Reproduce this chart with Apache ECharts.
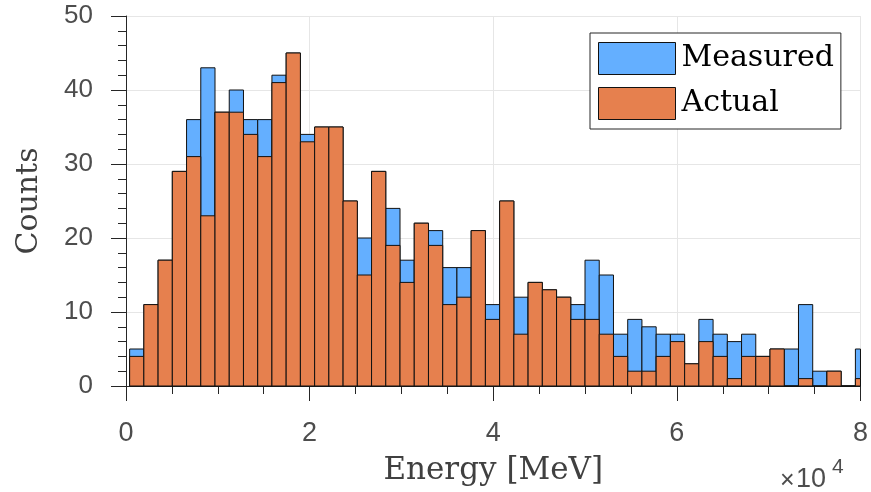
<!DOCTYPE html>
<html>
<head>
<meta charset="utf-8">
<script src="https://cdn.jsdelivr.net/npm/echarts@6/dist/echarts.min.js"></script>
<style>
  html, body { margin: 0; padding: 0; background: #fff; }
  #chart { width: 871px; height: 492px; }
</style>
</head>
<body>
<div id="chart"></div>
<script>
// histogram bins (MeV)
var binStart = 395;
var binWidth = 1550;

var measured = [5, 11, 17, 29, 36, 43, 37, 40, 36, 36, 42, 45, 34, 35, 35, 25, 20, 29, 24, 17,
                22, 21, 16, 16, 21, 11, 25, 12, 14, 13, 12, 11, 17, 15, 7, 9, 8, 7, 7, 3,
                9, 7, 6, 7, 4, 5, 5, 11, 2, 2, 0, 5];
var actual = [4, 11, 17, 29, 31, 23, 37, 37, 34, 31, 41, 45, 33, 35, 35, 25, 15, 29, 19, 14,
              22, 19, 11, 12, 21, 9, 25, 7, 14, 13, 12, 9, 9, 7, 4, 2, 2, 4, 6, 3,
              6, 4, 1, 4, 4, 5, 0, 1, 0, 2, 0, 1];

var xTicks = [0, 20000, 40000, 60000, 80000];
var yTicks = [0, 10, 20, 30, 40, 50];

var chart = document.getElementById('chart');
var myChart = echarts.init(chart);

function toData(arr) {
    return arr.map(function (v, i) { return [i, v]; });
}

function renderBin(params, api) {
    var i = api.value(0);
    var v = api.value(1);
    var x0 = binStart + i * binWidth;
    var p0 = api.coord([x0, v]);
    var p1 = api.coord([x0 + binWidth, 0]);
    var cs = params.coordSys;
    var rect = echarts.graphic.clipRectByRect({
        x: p0[0], y: p0[1], width: p1[0] - p0[0], height: p1[1] - p0[1]
    }, { x: cs.x, y: cs.y - 1, width: cs.width, height: cs.height + 2 });
    if (!rect) return;
    return {
        type: 'rect',
        shape: rect,
        style: api.style({ stroke: '#111', lineWidth: 1 })
    };
}

var sansFont = '"Liberation Sans", Arial, sans-serif';
var serifFont = '"DejaVu Serif", serif';

option = {
    animation: false,
    backgroundColor: '#fff',
    grid: { left: 126, right: 9, top: 16, bottom: 106 },
    legend: {
        orient: 'vertical',
        left: 590,
        top: 33,
        padding: [9, 7, 9, 8],
        itemGap: 12,
        itemWidth: 77,
        itemHeight: 32,
        icon: 'rect',
        borderColor: '#262626',
        borderWidth: 1,
        backgroundColor: '#fff',
        itemStyle: { borderColor: '#111', borderWidth: 1 },
        textStyle: { fontFamily: serifFont, fontSize: 30, color: '#000', padding: [0, 0, 0, 1] },
        data: ['Measured', 'Actual']
    },
    xAxis: {
        type: 'value',
        min: xTicks[0],
        max: xTicks[xTicks.length - 1],
        interval: 20000,
        name: 'Energy [MeV]',
        nameLocation: 'middle',
        nameGap: 69,
        nameTextStyle: { fontFamily: serifFont, fontSize: 31, color: '#404040' },
        axisLine: { show: true, onZero: false, lineStyle: { color: '#262626', width: 1 } },
        axisTick: { show: true, length: 15, lineStyle: { color: '#262626' } },
        minorTick: { show: true, splitNumber: 4, length: 8, lineStyle: { color: '#262626' } },
        axisLabel: {
            margin: 34,
            fontFamily: sansFont,
            fontSize: 27,
            color: '#4d4d4d',
            formatter: function (v) { return String(v / 10000); }
        },
        splitLine: { show: true, lineStyle: { color: '#e6e6e6', width: 1 } }
    },
    yAxis: {
        type: 'value',
        min: yTicks[0],
        max: yTicks[yTicks.length - 1],
        interval: 10,
        name: 'Counts',
        nameLocation: 'middle',
        nameGap: 82,
        nameRotate: 90,
        nameTextStyle: { fontFamily: serifFont, fontSize: 30, color: '#404040' },
        axisLine: { show: true, lineStyle: { color: '#262626', width: 1 } },
        axisTick: { show: true, length: 15, lineStyle: { color: '#262626' } },
        minorTick: { show: true, splitNumber: 5, length: 8, lineStyle: { color: '#262626' } },
        axisLabel: {
            margin: 33,
            fontFamily: sansFont,
            fontSize: 26,
            color: '#4d4d4d'
        },
        splitLine: { show: true, lineStyle: { color: '#e6e6e6', width: 1 } }
    },
    graphic: [
        {
            type: 'text', left: 780, top: 469,
            style: { text: '\u00d7', font: '25px ' + sansFont, fill: '#4d4d4d' }
        },
        {
            type: 'text', left: 796, top: 466,
            style: { text: '10', font: '27px ' + sansFont, fill: '#4d4d4d' }
        },
        {
            type: 'text', left: 832, top: 457,
            style: { text: '4', font: '21px ' + sansFont, fill: '#4d4d4d' }
        }
    ],
    series: [
        {
            name: 'Measured',
            type: 'custom',
            renderItem: renderBin,
            itemStyle: { color: '#64afff', borderColor: '#111', borderWidth: 1 },
            encode: { x: -1, y: 1 },
            data: toData(measured)
        },
        {
            name: 'Actual',
            type: 'custom',
            renderItem: renderBin,
            itemStyle: { color: '#e6804e', borderColor: '#111', borderWidth: 1 },
            encode: { x: -1, y: 1 },
            data: toData(actual)
        }
    ]
};

myChart.setOption(option);
</script>
</body>
</html>
